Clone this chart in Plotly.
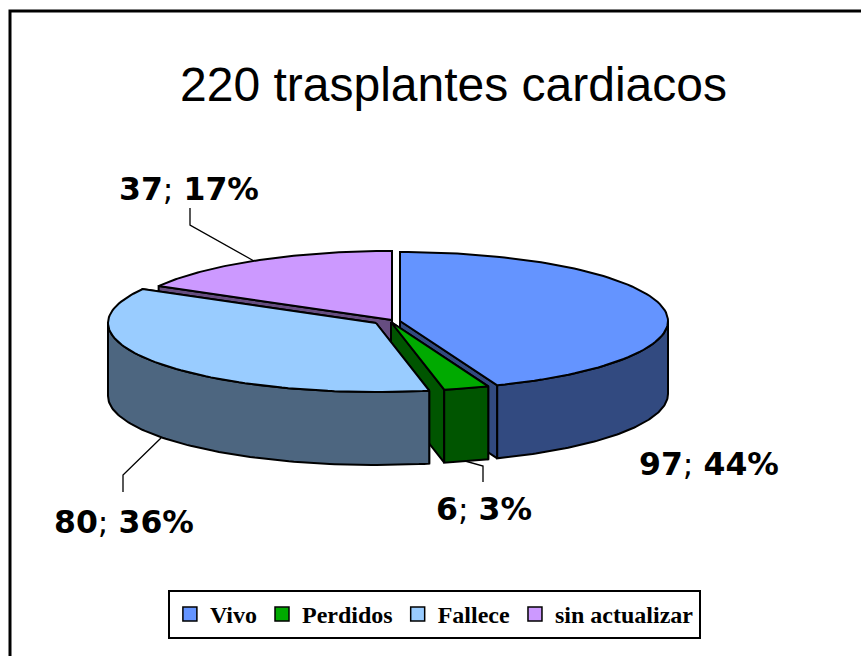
import math
import plotly.graph_objects as go

# --- data ---
categories = ["Vivo", "Perdidos", "Fallece", "sin actualizar"]
values = [97, 6, 80, 37]
percents = [44, 3, 36, 17]
top_colors = ["#6494FF", "#00AA00", "#99CCFF", "#CC99FF"]
wall_colors = ["#324A80", "#005500", "#4D6680", "#664D80"]
title_text = "220 trasplantes cardiacos"

# --- pie geometry (pixel canvas) ---
W, H = 861, 656
RX, RY, DEPTH = 268, 69, 73
centres = {"Vivo": (400, 321), "Perdidos": (391, 322), "Fallece": (376, 323), "sin actualizar": (392, 320)}
draw_order = ["sin actualizar", "Vivo", "Perdidos", "Fallece"]
label_pos = {"Vivo": (709, 464), "Perdidos": (484, 509), "Fallece": (124, 522), "sin actualizar": (189, 189)}
leaders = [
    ([190, 190, 254], [208, 225, 261]),
    ([123, 123, 161], [492, 475, 438]),
    ([483, 483, 465], [482, 466, 461]),
]

total = sum(values)
angles = {}
acc = 0.0
for c, v in zip(categories, values):
    angles[c] = (acc / total * 2 * math.pi, (acc + v) / total * 2 * math.pi)
    acc += v


def pt(c, th, dz=0):
    cx, cy = centres[c]
    return cx + RX * math.sin(th), cy - RY * math.cos(th) + dz


def arc(c, a, b, dz=0, n=90):
    return [pt(c, a + (b - a) * i / n, dz) for i in range(n + 1)]


fig = go.Figure()


def poly(points, color):
    xs = [p[0] for p in points]
    ys = [p[1] for p in points]
    fig.add_trace(go.Scatter(x=xs + xs[:1], y=ys + ys[:1], mode="lines", fill="toself", fillcolor=color,
                             line=dict(color="#000000", width=2), showlegend=False, hoverinfo="skip"))


for c in draw_order:
    i = categories.index(c)
    a, b = angles[c]
    apex = centres[c]
    # cut faces
    for th in (a, b):
        p = pt(c, th)
        poly([apex, p, (p[0], p[1] + DEPTH), (apex[0], apex[1] + DEPTH)], wall_colors[i])
    # rim (front half only)
    ra, rb = max(a, math.pi / 2), min(b, 3 * math.pi / 2)
    if rb > ra:
        poly(arc(c, ra, rb) + arc(c, ra, rb, DEPTH)[::-1], wall_colors[i])
    poly([apex] + arc(c, a, b), top_colors[i])

for lx, ly in leaders:
    fig.add_trace(go.Scatter(x=lx, y=ly, mode="lines", line=dict(color="#000000", width=1.3),
                             showlegend=False, hoverinfo="skip"))

for i, c in enumerate(categories):
    fig.add_trace(go.Scatter(x=[None], y=[None], mode="markers", name=c,
                             marker=dict(symbol="square", size=14, color=top_colors[i],
                                         line=dict(color="#000000", width=1.5))))

annotations = [dict(x=453, y=84, text=title_text, showarrow=False, xref="x", yref="y",
                    font=dict(family="Liberation Sans", size=48, color="#000000"))]
for c, v, p in zip(categories, values, percents):
    x, y = label_pos[c]
    annotations.append(dict(x=x, y=y, text=f"<b>{v}</b>; <b>{p}%</b>", showarrow=False, xref="x", yref="y",
                            font=dict(family="DejaVu Sans", size=31.5, color="#000000")))

fig.update_layout(
    width=W, height=H, margin=dict(l=0, r=0, t=0, b=0), autosize=False,
    paper_bgcolor="#FFFFFF", plot_bgcolor="#FFFFFF",
    xaxis=dict(range=[0, W], visible=False, fixedrange=True),
    yaxis=dict(range=[H, 0], visible=False, fixedrange=True),
    annotations=annotations,
    shapes=[dict(type="rect", xref="x", yref="y", x0=10, y0=11, x1=H * 2, y1=H * 2,
                 line=dict(color="#000000", width=3))],
    legend=dict(orientation="h", x=0.195, y=0.1006, xanchor="left", yanchor="top",
                bordercolor="#000000", borderwidth=2, bgcolor="#FFFFFF",
                font=dict(family="Liberation Serif", size=24, color="#000000", weight="bold"),
                itemwidth=30),
)
fig.write_html("out.html", config={"displayModeBar": False},
               post_script="document.body.style.margin='0';")
